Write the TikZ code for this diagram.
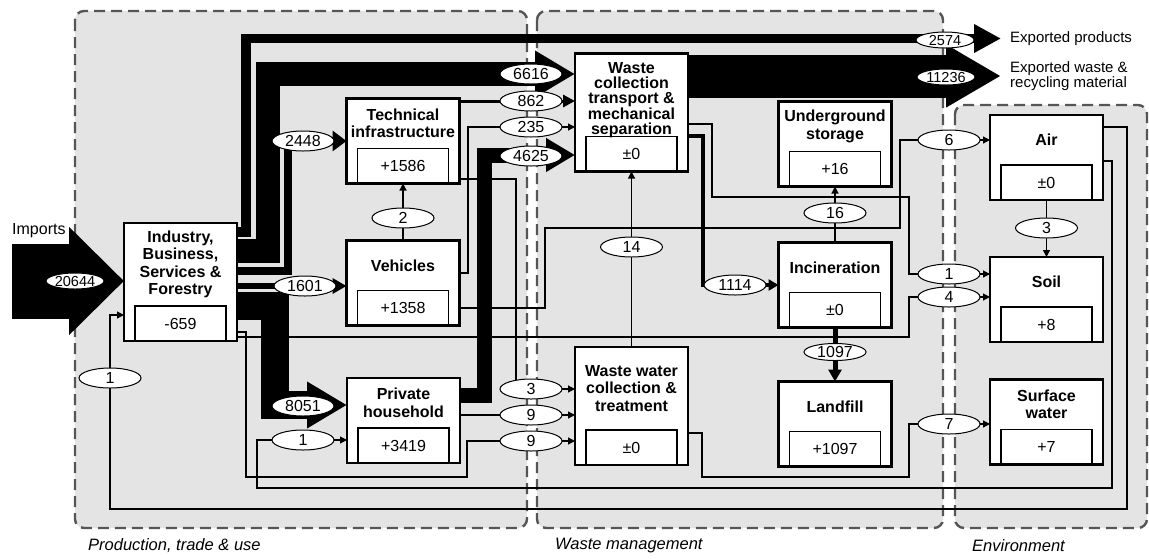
\documentclass[tikz,border=0pt]{standalone}
\usepackage{fontspec}
\setmainfont{Liberation Sans}
\usetikzlibrary{arrows.meta,shapes.geometric,calc}
\definecolor{regfill}{RGB}{228,228,228}
\definecolor{regline}{RGB}{85,85,85}
% number centred on its node without enlarging the ellipse
\newcommand{\nv}[1]{\makebox[0pt]{\smash{\raisebox{-0.36em}{#1}}}}
% process box: outer frame, stock value box, title
\newcommand{\stockbox}[5][stock]{%
  \node[#1] (#2) at (#3) {};
  \node[valbox] (#2V) at (#2.south) {#4};
  \node[ttl] (#2T) at ($(#2.north)!.5!(#2V.north)$) {#5};}
\begin{document}
\begin{tikzpicture}[x=1pt,y=-1pt,
  region/.style={fill=regfill,draw=regline,line width=2.4pt,dash pattern=on 11pt off 6pt,rounded corners=9pt},
  regionlabel/.style={anchor=west,inner sep=0pt,font=\itshape\fontsize{16.5}{18}\selectfont},
  stock/.style={draw,fill=white,line width=2.6pt,outer sep=0pt,inner sep=0pt,minimum width=113pt,minimum height=85pt},
  tallstock/.style={stock,minimum height=118pt},
  valbox/.style={draw,line width=1.1pt,outer sep=0pt,inner sep=0pt,minimum width=91pt,minimum height=35pt,anchor=south,font=\fontsize{16}{18}\selectfont},
  ttl/.style={inner sep=0pt,align=center,font=\bfseries\fontsize{16}{17.5}\selectfont},
  ell/.style={ellipse,draw,fill=white,line width=1pt,inner sep=0pt,minimum width=62pt,minimum height=20pt,font=\fontsize{16}{18}\selectfont},
  smallell/.style={ell,minimum width=58pt,minimum height=16pt,font=\fontsize{14.5}{16}\selectfont},
  link/.style={line width=1.2pt,-{Triangle[length=7pt,width=7pt]}},
  band/.style={line width=#1pt,line join=miter},
  extxt/.style={anchor=west,inner sep=0pt,align=left,font=\fontsize{15}{13.5}\selectfont},
]
\useasboundingbox (0,0) rectangle (1149,558);

% system boundaries
\draw[region] (75,11) rectangle (527,528);
\draw[region] (537,11) rectangle (943,528);
\draw[region] (955,105) rectangle (1147,528);
\node[regionlabel] (lab1) at (88,546) {Production, trade \& use};
\node[regionlabel] (lab2) at (555,546) {Waste management};
\node[regionlabel] (lab3) at (972,546) {Environment};

% processes
\stockbox[tallstock]{ind}{180.5,282}{-659}{Industry,\\Business,\\Services \&\\Forestry}
\stockbox{tech}{403,141}{+1586}{Technical\\infrastructure}
\stockbox{veh}{403,283}{+1358}{Vehicles}
\stockbox{hh}{403.5,420.5}{+3419}{Private\\household}
\node[tallstock] (wc) at (631.5,112.5) {};
\node[valbox] (wcV) at (wc.south) {±0};
\node[ttl,font=\bfseries\fontsize{16}{14.8}\selectfont] (wcT) at ([yshift=-5pt]$(wc.north)!.5!(wcV.north)$) {Waste\\collection\\transport \&\\mechanical\\separation};
\stockbox[tallstock]{ww}{631.5,406}{±0}{Waste water\\collection \&\\treatment}
\stockbox{ug}{835,144}{+16}{Underground\\storage}
\stockbox{inc}{835,285}{±0}{Incineration}
\stockbox{lf}{835,424}{+1097}{Landfill}
\stockbox{air}{1046.5,157.5}{±0}{Air}
\stockbox{soil}{1046.5,299.5}{+8}{Soil}
\stockbox{sw}{1046.5,422}{+7}{Surface\\water}

\coordinate (impsrc) at (12,281);
\coordinate (expP) at (1001,38.5);
\coordinate (expW) at (1001,76);

% minor flows
\draw[link] (veh.north) -- (tech.south);
\draw[link] (ww.north) -- (wc.south);
\draw[link] (inc.north) -- (ug.south);
\draw[link] (air.south) -- (soil.north);
\draw[link] (veh.east |- 0,273) -| (468,127) -- (wc.west |- 0,127);
\draw[link] (veh.east |- 0,308) -| (545,228) -| (900,140) -- (air.west |- 0,140);
\draw[link] (tech.east |- 0,179) -| (516,389) -- (ww.west |- 0,389);
\draw[link] (hh.east |- 0,415) -- (ww.west |- 0,415);
\draw[link] (ind.east |- 0,332) -| (246,477) -| (467,441) -- (ww.west |- 0,441);
\draw[link] (ind.east |- 0,337) -| (909,297) -- (soil.west |- 0,297);
\draw[link] (wc.east |- 0,124) -| (712,197) -| (909,274) -- (soil.west |- 0,274);
\draw[link] (ww.east |- 0,433) -| (702,477) -| (909,424) -- (sw.west |- 0,424);
\draw[link] (air.east |- 0,161) -| (1112,488) -| (257,440) -- (hh.west |- 0,440);
\draw[link] (air.east |- 0,127) -| (1127,509) -| (110,315) -- (ind.west |- 0,315);

% major flows
\draw[band=75,-{Triangle[length=55pt,width=105pt]}] (impsrc) -- (ind.west |- 0,281);
\draw[band=9.5,-{Triangle[length=27pt,width=27pt]}] (ind.east |- 0,232) -| (246,38.5) -- (expP);
\draw[band=24,-{Triangle[length=40pt,width=44pt]}] (ind.east |- 0,251) -| (268,74) -- (wc.west |- 0,74);
\draw[band=8,-{Triangle[length=14pt,width=20pt]}] (ind.east |- 0,271) -| (288,141) -- (tech.west |- 0,141);
\draw[band=6,-{Triangle[length=14pt,width=15pt]}] (ind.east |- 0,286) -- (veh.west |- 0,286);
\draw[band=28,-{Triangle[length=40pt,width=44pt]}] (ind.east |- 0,306) -| (275,405) -- (hh.west |- 0,405);
\draw[band=15,-{Triangle[length=29pt,width=32pt]}] (hh.east |- 0,395) -| (484.5,155) -- (wc.west |- 0,155);
\draw[band=3,-{Triangle[length=12pt,width=12pt]}] (tech.east |- 0,101) -- (wc.west |- 0,101);
\draw[band=43,-{Triangle[length=55pt,width=59pt]}] (wc.east |- 0,76) -- (expW);
\draw[band=4,-{Triangle[length=10pt,width=11pt]}] (wc.east |- 0,136) -| (703,285) -- (inc.west |- 0,285);
\draw[band=5,-{Triangle[length=12pt,width=13pt]}] (inc.south) -- (lf.north);

% flow values
\node[smallell] (v20644) at (75,281) {\nv{20644}};
\node[smallell] (v2574) at (945,40) {\nv{2574}};
\node[smallell] (v11236) at (946,77) {\nv{11236}};
\node[ell] (v6616) at (531,74) {\nv{6616}};
\node[ell] (v862) at (531,101) {\nv{862}};
\node[ell] (v235) at (531,127) {\nv{235}};
\node[ell] (v4625) at (531,156) {\nv{4625}};
\node[ell] (v2448) at (303,141) {\nv{2448}};
\node[ell] (v1601) at (305,286) {\nv{1601}};
\node[ell] (v8051) at (303,406) {\nv{8051}};
\node[ell] (v1hh) at (303,440) {\nv{1}};
\node[ell] (v1ind) at (110,378) {\nv{1}};
\node[ell] (v2) at (403,218) {\nv{2}};
\node[ell] (v3ww) at (531,389) {\nv{3}};
\node[ell] (v9a) at (531,415) {\nv{9}};
\node[ell] (v9b) at (531,441) {\nv{9}};
\node[ell] (v14) at (631.5,247) {\nv{14}};
\node[ell] (v1114) at (735,285) {\nv{1114}};
\node[ell] (v16) at (835,213) {\nv{16}};
\node[ell,minimum height=17pt] (v1097) at (835,352) {\nv{1097}};
\node[ell] (v6) at (949,140) {\nv{6}};
\node[ell] (v1soil) at (949,274) {\nv{1}};
\node[ell] (v4) at (949,297) {\nv{4}};
\node[ell] (v7) at (949,424) {\nv{7}};
\node[ell] (v3air) at (1046.5,228) {\nv{3}};

% import / export labels
\node[anchor=west,inner sep=0pt,font=\fontsize{16}{18}\selectfont] (imp) at (12,231) {Imports};
\node[extxt] (expPT) at (1010,38.5) {Exported products};
\node[extxt] (expWT) at (1010,76) {Exported waste \&\\recycling material};
\end{tikzpicture}
\end{document}
